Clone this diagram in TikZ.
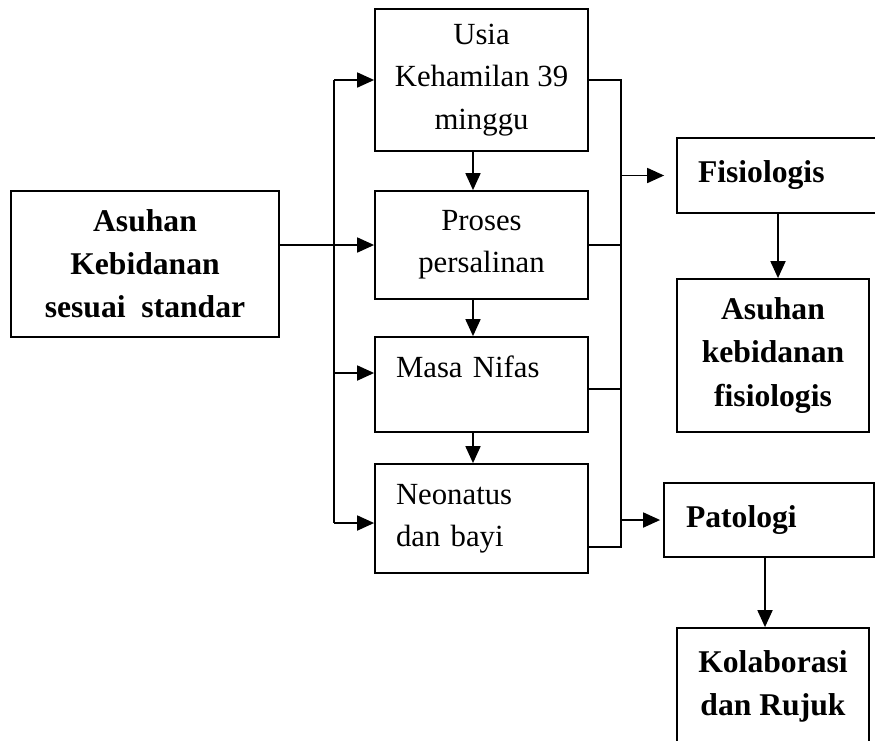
\documentclass[tikz,border=0pt]{standalone}
\usepackage{fontspec}
\setmainfont{Liberation Serif}
\usetikzlibrary{arrows.meta}

\begin{document}
\begin{tikzpicture}
        \tikzstyle{box} = [rectangle, draw=black, line width=1pt, minimum width=4.26cm, inner sep=0pt, font=\fontsize{17.5}{24}\selectfont];
        \tikzstyle{boldbox} = [box, font=\fontsize{18}{24.5}\selectfont\bfseries];
        \tikzstyle{line} = [draw=black, line width=1pt];
        \tikzstyle{arrow} = [line, -{Triangle[length=0.34cm, width=0.30cm]}];

        \clip (0,0) rectangle (17.5,-14.8);

        \node(asuhan) [boldbox, minimum width=5.36cm, minimum height=2.92cm, align=center] at (2.90,-5.28) {Asuhan\\Kebidanan\\sesuai\ \ standar};

        \node(usia) [box, minimum height=2.84cm, align=center] at (9.63,-1.60) {Usia\\Kehamilan 39\\minggu};
        \node(proses) [box, minimum height=2.16cm, align=center] at (9.63,-4.90) {Proses\\persalinan};
        \node(masa) [box, minimum height=1.90cm, text width=3.42cm, align=left, text height=0.45cm, text depth=0.75cm] at (9.63,-7.69) {Masa Nifas};
        \node(neonatus) [box, minimum height=2.18cm, text width=3.42cm, align=left] at (9.63,-10.37) {Neonatus\\dan bayi};

        \node(fisiologis) [boldbox, minimum width=4.16cm, minimum height=1.50cm, text width=3.32cm, align=left] at (15.62,-3.51) {Fisiologis};
        \node(asuhanfis) [boldbox, minimum width=3.84cm, minimum height=3.06cm, align=center] at (15.46,-7.11) {Asuhan\\kebidanan\\fisiologis};
        \node(patologi) [boldbox, minimum width=4.20cm, minimum height=1.48cm, text width=3.32cm, align=left] at (15.38,-10.40) {Patologi};
        \node(kolaborasi) [boldbox, minimum width=3.84cm, minimum height=2.34cm, align=center] at (15.46,-13.73) {Kolaborasi\\dan Rujuk};

        \coordinate (kiriatas) at (6.68,-1.60);
        \coordinate (kiribawah) at (6.68,-10.46);
        \coordinate (masain) at ([yshift=0.23cm]masa.west);
        \draw[line] (kiriatas) -- (kiribawah);
        \draw[arrow] (kiriatas) -- (usia.west);
        \draw[arrow] (asuhan.east |- proses.west) -- (proses.west);
        \draw[arrow] (kiriatas |- masain) -- (masain);
        \draw[arrow] (kiribawah) -- (kiribawah -| neonatus.west);

        \draw[arrow] ([xshift=-0.17cm]usia.south) -- ([xshift=-0.17cm]proses.north);
        \draw[arrow] ([xshift=-0.17cm]proses.south) -- ([xshift=-0.17cm]masa.north);
        \draw[arrow] ([xshift=-0.17cm]masa.south) -- ([xshift=-0.17cm]neonatus.north);

        \coordinate (kananatas) at (12.42,-1.60);
        \coordinate (kananbawah) at (12.42,-10.94);
        \coordinate (masaout) at ([yshift=-0.09cm]masa.east);
        \draw[line] (usia.east) -- (kananatas) -- (kananbawah) -- (kananbawah -| neonatus.east);
        \draw[line] (proses.east) -- (proses.east -| kananatas);
        \draw[line] (masaout) -- (masaout -| kananatas);
        \draw[arrow, shorten >=0.24cm] (kananatas |- fisiologis.west) -- (fisiologis.west);
        \draw[arrow, shorten >=0.06cm] (kananatas |- patologi.west) -- (patologi.west);

        \coordinate (fisbawah) at ([xshift=0.10cm]asuhanfis.north);
        \coordinate (kolatas) at ([xshift=-0.16cm]kolaborasi.north);
        \draw[arrow] (fisbawah |- fisiologis.south) -- (fisbawah);
        \draw[arrow] (kolatas |- patologi.south) -- (kolatas);

    \end{tikzpicture}
\end{document}
